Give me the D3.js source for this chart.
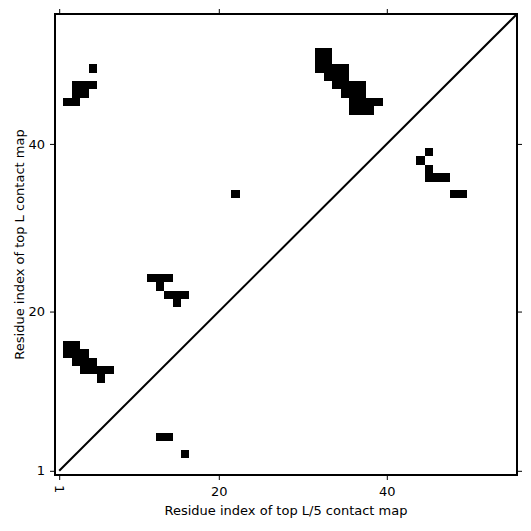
<!DOCTYPE html>
<html>
<head>
<meta charset="utf-8">
<script src="https://cdn.jsdelivr.net/npm/d3@7"></script>
<style>
  body { margin: 0; background: #fff; }
  text { font-family: "DejaVu Sans", sans-serif; fill: #000; }
</style>
</head>
<body>
<svg id="chart" width="531" height="531"></svg>
<script>
// sequence length and axis ticks
var L = 55
var tickValues = [1, 20, 40]

// contact cells: residue i (x) and residue j (y)
var residueI = [
  5, 3, 4, 5, 3, 4, 2, 3,
  32, 33, 32, 33, 32, 33, 34, 35, 33, 34, 35, 34, 35, 36, 37, 35, 36, 37, 36, 37, 38, 39, 36, 37, 38,
  45, 44, 45, 45, 46, 47, 48, 49,
  22,
  12, 13, 14, 13, 14, 15, 16, 15,
  2, 3, 2, 3, 4, 3, 4, 5, 4, 5, 6, 7, 6,
  13, 14, 16
]
var residueJ = [
  49, 47, 47, 47, 46, 46, 45, 45,
  51, 51, 50, 50, 49, 49, 49, 49, 48, 48, 48, 47, 47, 47, 47, 46, 46, 46, 45, 45, 45, 45, 44, 44, 44,
  39, 38, 37, 36, 36, 36, 34, 34,
  34,
  24, 24, 24, 23, 22, 22, 22, 21,
  16, 16, 15, 15, 15, 14, 14, 14, 13, 13, 13, 13, 12,
  5, 5, 3
]

var contacts = residueI.map((d, k) => ({i: d, j: residueJ[k]}))

var margin = {left: 55, top: 14, right: 14, bottom: 56}
var width = 531 - margin.left - margin.right
var height = 531 - margin.top - margin.bottom

var svg = d3.select('#chart')
var g = svg.append('g').attr('transform', `translate(${margin.left},${margin.top})`)

var x = d3.scaleLinear().domain([0.5, L + 0.5]).range([0, width])
var y = d3.scaleLinear().domain([0.5, L + 0.5]).range([height, 0])

g.selectAll('rect.cell')
  .data(contacts)
  .enter().append('rect')
  .attr('class', 'cell')
  .attr('x', d => x(d.i - 0.5))
  .attr('y', d => y(d.j + 0.5))
  .attr('width', d => x(d.i + 0.5) - x(d.i - 0.5))
  .attr('height', d => y(d.j - 0.5) - y(d.j + 0.5))
  .attr('fill', '#000')
  .attr('shape-rendering', 'crispEdges')

// diagonal
g.append('line')
  .attr('x1', x(1)).attr('y1', y(1))
  .attr('x2', x(L + 0.5)).attr('y2', y(L + 0.5))
  .attr('stroke', '#000')
  .attr('stroke-width', 2)

function styleAxis(sel){
  sel.select('.domain').remove()
  sel.selectAll('.tick line').attr('stroke', '#000').attr('stroke-width', 1)
  sel.selectAll('.tick text').style('font-size', '13px').style('font-family', '"DejaVu Sans", sans-serif')
}

var xAxis = g.append('g')
  .attr('transform', `translate(0,${height})`)
  .call(d3.axisBottom(x).tickValues(tickValues).tickSize(5).tickPadding(7))
  .call(styleAxis)

// first tick label is drawn rotated
xAxis.selectAll('.tick text')
  .filter(d => d === 1)
  .attr('transform', 'rotate(90)')
  .attr('text-anchor', 'start')
  .attr('dy', '0.35em')
  .attr('x', 10)
  .attr('y', 0)

g.append('g')
  .call(d3.axisTop(x).tickValues(tickValues).tickSize(5).tickFormat(''))
  .call(styleAxis)

g.append('g')
  .call(d3.axisLeft(y).tickValues(tickValues).tickSize(5).tickPadding(5))
  .call(styleAxis)

g.append('g')
  .attr('transform', `translate(${width},0)`)
  .call(d3.axisRight(y).tickValues(tickValues).tickSize(5).tickFormat(''))
  .call(styleAxis)

// frame
g.append('rect')
  .attr('width', width).attr('height', height)
  .attr('fill', 'none')
  .attr('stroke', '#000')
  .attr('stroke-width', 2)

g.append('text')
  .attr('x', width / 2).attr('y', height + 40)
  .attr('text-anchor', 'middle')
  .style('font-size', '13px')
  .text('Residue index of top L/5 contact map')

g.append('text')
  .attr('transform', `translate(${-31},${height / 2}) rotate(-90)`)
  .attr('text-anchor', 'middle')
  .style('font-size', '13px')
  .text('Residue index of top L contact map')
</script>
</body>
</html>
